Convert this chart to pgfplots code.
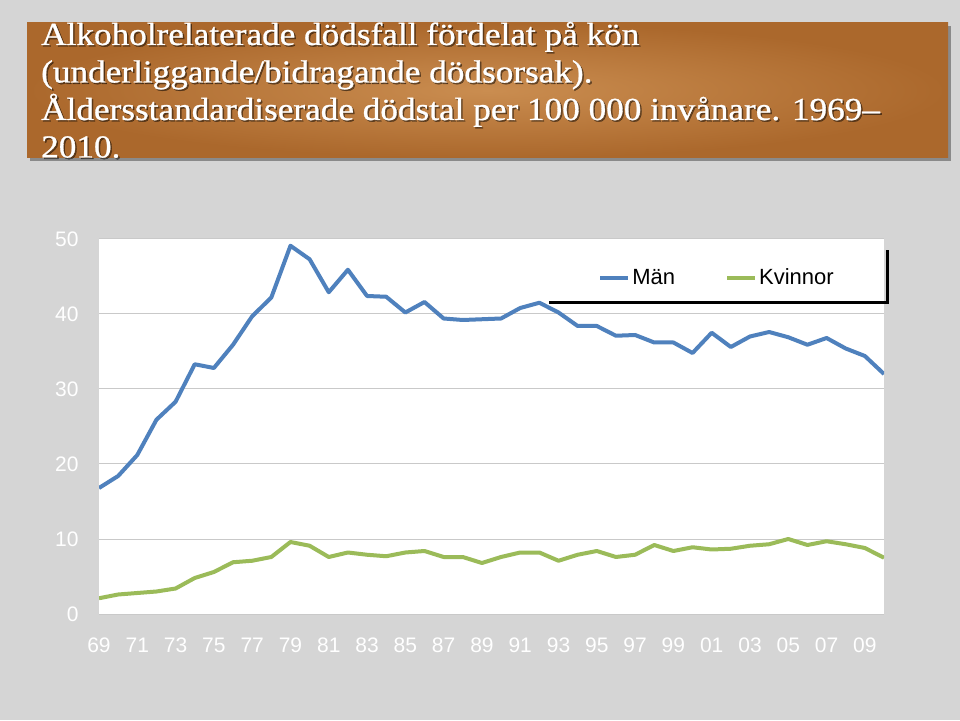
\documentclass[border=0pt]{standalone}
\usepackage{fontspec}
\setmainfont{Liberation Sans}
\newfontfamily\titlefont[FakeStretch=1.1, FakeBold=0.9]{Liberation Serif}
\usepackage{pgfplots}
\pgfplotsset{compat=1.18}
\definecolor{bg}{HTML}{D5D5D5}
\definecolor{man}{HTML}{4F81BD}
\definecolor{kv}{HTML}{9BBB59}
\definecolor{boxin}{HTML}{CA8D50}
\definecolor{boxout}{HTML}{AB682C}
\begin{document}
\begin{tikzpicture}
\fill[bg] (0pt,0pt) rectangle (960pt,720pt);
\fill[black!75, opacity=0.5] (30pt,559pt) rectangle (951pt,694pt);
\shade[inner color=boxin, outer color=boxout] (27pt,562pt) rectangle (948pt,697pt);
\begin{scope}[every node/.style={anchor=base west, inner sep=0pt, font=\titlefont\fontsize{32}{37.5}\selectfont}]
\foreach \dx/\dy/\col/\op in {1.5pt/-1.5pt/black/0.45, 0pt/0pt/white/1} {
\node[text=\col, opacity=\op] at ([shift={(\dx,\dy)}]41pt,675pt) {Alkoholrelaterade dödsfall fördelat på kön};
\node[text=\col, opacity=\op] at ([shift={(\dx,\dy)}]41pt,637.5pt) {(underliggande/bidragande dödsorsak).};
\node[text=\col, opacity=\op] at ([shift={(\dx,\dy)}]41pt,600pt) {Åldersstandardiserade dödstal per 100 000 invånare. 1969–};
\node[text=\col, opacity=\op] at ([shift={(\dx,\dy)}]41pt,562.5pt) {2010.};
}
\end{scope}
\begin{axis}[at={(99pt,106pt)}, anchor=south west, scale only axis,
  width=785pt, height=375pt,
  xmin=1969, xmax=2010, ymin=0, ymax=50,
  axis background/.style={fill=white},
  axis line style={draw=none},
  ytick={0,10,...,50}, ymajorgrids,
  grid style={gray!42, line width=1pt},
  major tick length=0pt,
  xtick={1969,1971,...,2009},
  xticklabels={69,71,73,75,77,79,81,83,85,87,89,91,93,95,97,99,01,03,05,07,09},
  tick label style={font=\fontsize{21}{21}\selectfont, text=white, text height=15pt, text depth=0pt},
  /pgf/number format/assume math mode=true,
  yticklabel style={xshift=-17pt},
  xticklabel style={anchor=north, yshift=-20pt},
  legend style={at={(rel axis cs:0.9425,0.897)}, anchor=east, draw=none, fill=none,
    font=\fontsize{22}{22}\selectfont, legend columns=2,
    /tikz/every even column/.append style={column sep=48pt}},
  legend image code/.code={\draw[#1, line width=4pt] (0pt,0pt) -- (28pt,0pt);},
]
\addplot[man, line width=4pt, line join=round] coordinates {
(1969,16.8)(1970,18.4)(1971,21.2)(1972,25.9)(1973,28.3)(1974,33.3)(1975,32.8)(1976,35.9)(1977,39.7)(1978,42.2)
(1979,49.1)(1980,47.3)(1981,42.9)(1982,45.9)(1983,42.4)(1984,42.3)(1985,40.2)(1986,41.6)(1987,39.4)(1988,39.2)
(1989,39.3)(1990,39.4)(1991,40.8)(1992,41.5)(1993,40.2)(1994,38.4)(1995,38.4)(1996,37.1)(1997,37.2)(1998,36.2)
(1999,36.2)(2000,34.8)(2001,37.5)(2002,35.6)(2003,37.0)(2004,37.6)(2005,36.9)(2006,35.9)(2007,36.8)(2008,35.4)
(2009,34.4)(2010,32.0)};
\addlegendentry{Män}
\addplot[kv, line width=4pt, line join=round] coordinates {
(1969,2.1)(1970,2.6)(1971,2.8)(1972,3.0)(1973,3.4)(1974,4.8)(1975,5.6)(1976,6.9)(1977,7.1)(1978,7.6)
(1979,9.6)(1980,9.1)(1981,7.6)(1982,8.2)(1983,7.9)(1984,7.7)(1985,8.2)(1986,8.4)(1987,7.6)(1988,7.6)
(1989,6.8)(1990,7.6)(1991,8.2)(1992,8.2)(1993,7.1)(1994,7.9)(1995,8.4)(1996,7.6)(1997,7.9)(1998,9.2)
(1999,8.4)(2000,8.9)(2001,8.6)(2002,8.7)(2003,9.1)(2004,9.3)(2005,10.0)(2006,9.2)(2007,9.7)(2008,9.3)
(2009,8.8)(2010,7.5)};
\addlegendentry{Kvinnor}
\end{axis}
\draw[black, line width=3pt] (549pt,417pt) -- (887pt,417pt) -- (887pt,470pt);
\end{tikzpicture}
\end{document}
